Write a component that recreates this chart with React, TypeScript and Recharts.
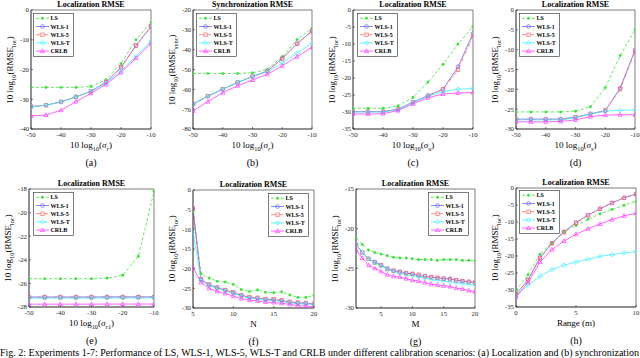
import React from 'react';
import { LineChart, Line, XAxis, YAxis, ReferenceArea } from 'recharts';

// ---------- data ----------
const X_SIGMA = [-50, -45, -40, -35, -30, -25, -20, -15, -10];
const X_N = [5, 6, 7, 8, 9, 10, 11, 12, 13, 14, 15, 16, 17, 18, 19, 20];
const X_M = [1, 2, 3, 4, 5, 6, 7, 8, 9, 10, 11, 12, 13, 14, 15, 16, 17, 18, 19, 20];
const X_RANGE = [0, 1, 2, 3, 4, 5, 6, 7, 8, 9, 10];

const SERIES_NAMES = ['LS', 'WLS-1', 'WLS-5', 'WLS-T', 'CRLB'];

const A_LS = [-26, -26, -26, -26, -25.7, -23.5, -18, -10, -4.1];
const A_W1 = [-32.5, -32, -30.9, -29.2, -27.3, -24.3, -19.3, -12, -5.6];
const A_W5 = [-32.4, -32, -30.9, -29.2, -27.3, -24.2, -19.2, -11.9, -5.5];
const A_WT = [-32.5, -32, -30.9, -29.2, -27.3, -24.6, -20.5, -15.6, -10.5];
const A_CR = [-35.6, -35.3, -33.7, -30.8, -28, -25, -21, -16.2, -11.2];

const B_LS = [-52, -52, -52, -52, -51.7, -49.9, -43.5, -34.9, -29.2];
const B_W1 = [-67.4, -63.4, -59.9, -56.5, -53.5, -50.8, -44.4, -36.9, -30.6];
const B_W5 = [-67.4, -63.4, -59.9, -56.5, -53.5, -50.8, -44.6, -37.1, -30.7];
const B_WT = [-67.6, -63.5, -60, -56.5, -53.6, -51.1, -46.8, -41.8, -36.8];
const B_CR = [-70.9, -66.2, -61.7, -58.2, -55.3, -52.4, -48.1, -43.5, -38.8];

const C_LS = [-28.9, -28.9, -28.9, -28.2, -25.7, -21.2, -16, -10, -4.9];
const C_W1 = [-29.9, -29.9, -29.9, -29.2, -27.1, -25.2, -23.3, -16.7, -6.9];
const C_W5 = [-29.9, -29.9, -29.9, -29.2, -27.1, -25.2, -23.3, -17.6, -7.6];
const C_WT = [-30, -30, -30, -29.3, -27.2, -25.3, -24, -23.3, -23.1];
const C_CR = [-30.6, -30.6, -30.5, -29.6, -27.6, -25.8, -24.7, -24.4, -24.3];

const D_LS = [-25.7, -25.7, -25.7, -25.7, -25.5, -24.4, -19.6, -11.5, -5];
const D_W1 = [-27.5, -27.5, -27.5, -27.5, -27, -26.2, -25.4, -19.7, -10.1];
const D_W5 = [-27.6, -27.6, -27.6, -27.6, -27.1, -26.2, -25.3, -20, -10.5];
const D_WT = [-27.7, -27.7, -27.7, -27.7, -27.2, -26.2, -25.5, -25.3, -25.2];
const D_CR = [-28.2, -28.2, -28.2, -28.1, -27.7, -26.9, -26.5, -26.4, -26.4];

const E_LS = [-25.6, -25.6, -25.6, -25.6, -25.6, -25.55, -25.3, -23.7, -18.2];
const E_W1 = [-27.15, -27.15, -27.15, -27.15, -27.15, -27.14, -27.14, -27.14, -27.14];
const E_W5 = [-27.18, -27.18, -27.18, -27.18, -27.18, -27.17, -27.17, -27.17, -27.17];
const E_WT = [-27.25, -27.25, -27.25, -27.25, -27.25, -27.24, -27.24, -27.24, -27.24];
const E_CR = [-27.76, -27.76, -27.76, -27.76, -27.76, -27.75, -27.75, -27.75, -27.75];

const F_LS = [-5.5, -21.3, -22.4, -23.2, -23.4, -24, -25.3, -25.8, -25.4, -26, -26.1, -25.9, -26.7, -27.3, -27.3, -26.8];
const F_W1 = [-4.8, -22.8, -24.1, -24.8, -25.5, -26.1, -26.8, -27.3, -27.5, -27.8, -27.9, -28.1, -28.5, -28.7, -28.8, -29];
const F_W5 = [-4.7, -22.7, -24, -24.8, -25.4, -26, -26.7, -27.2, -27.4, -27.7, -27.8, -28, -28.4, -28.6, -28.7, -28.9];
const F_WT = [-10.6, -23, -24.3, -25, -25.7, -26.3, -27, -27.5, -27.7, -28, -28.1, -28.3, -28.7, -28.9, -29, -29.1];
const F_CR = [-19.7, -23.5, -25, -25.8, -26.3, -27, -27.6, -28, -28.2, -28.5, -28.6, -28.8, -29.1, -29.4, -29.5, -29.7];

const G_LS = [-21.2, -22, -22.7, -23, -23.2, -23.4, -23.6, -23.7, -23.7, -23.8, -23.9, -23.9, -23.9, -24, -23.9, -23.9, -23.9, -24, -24, -24];
const G_W1 = [-22, -23, -23.8, -24.2, -24.6, -25, -25.3, -25.4, -25.6, -25.7, -25.9, -26, -26.1, -26.2, -26.3, -26.3, -26.5, -26.6, -26.7, -26.8];
const G_W5 = [-22, -23, -23.8, -24.3, -24.6, -25.1, -25.3, -25.5, -25.6, -25.7, -25.8, -26, -26.1, -26.2, -26.3, -26.4, -26.5, -26.6, -26.7, -26.8];
const G_WT = [-22, -23, -23.8, -24.3, -24.7, -25.1, -25.4, -25.6, -25.8, -25.9, -26.1, -26.2, -26.4, -26.5, -26.6, -26.7, -26.8, -26.9, -27, -27.1];
const G_CR = [-22.7, -23.7, -24.6, -25, -25.4, -25.8, -26, -26.1, -26.3, -26.5, -26.6, -26.8, -27, -27.1, -27.2, -27.3, -27.5, -27.6, -27.8, -27.95];

const H_LS = [-30.2, -25.5, -19.5, -16.1, -12.9, -11, -9.2, -7.6, -6.3, -5.1, -3.9];
const H_W1 = [-31.3, -27, -20.5, -16.2, -12.9, -10.2, -8, -6.1, -4.4, -2.9, -1.8];
const H_W5 = [-31.2, -27.1, -20.6, -16.3, -13, -10.2, -8, -6.1, -4.4, -2.9, -1.8];
const H_WT = [-31.8, -28.6, -25.9, -24, -22.7, -21.8, -21, -20.1, -19.6, -19.1, -18.7];
const H_CR = [-32, -27.8, -21.8, -18.1, -15.6, -13.6, -12, -10.6, -9.3, -8.2, -7.4];

const TICKS_SIGMA = [-50, -40, -30, -20, -10];
const TICKS_NM = [5, 10, 15, 20];
const TICKS_RANGE = [0, 5, 10];

const CAPTION =
  'Fig. 2: Experiments 1-7: Performance of LS, WLS-1, WLS-5, WLS-T and CRLB under different calibration scenarios: (a) Localization and (b) synchronization';

// ---------- styles ----------
const FONT = "'Liberation Serif', 'DejaVu Serif', serif";
const AX = '#262626';
const STYLES = [
  { color: '#3ee23e', dash: '3 2', shape: 'dot' },
  { color: '#6a6aff', dash: undefined, shape: 'circle' },
  { color: '#ff6a6a', dash: '4 1.5 1 1.5', shape: 'square' },
  { color: '#3ff0ff', dash: undefined, shape: 'diamond' },
  { color: '#ff3cff', dash: undefined, shape: 'triangle' },
];

function Marker({ shape, color, cx, cy }: { shape: string; color: string; cx: number; cy: number }) {
  const sw = 0.7;
  if (shape === 'dot') return <circle cx={cx} cy={cy} r={1.3} fill={color} stroke={color} strokeWidth={0.3} />;
  if (shape === 'circle') return <circle cx={cx} cy={cy} r={1.9} fill="none" stroke={color} strokeWidth={sw} />;
  if (shape === 'square') return <rect x={cx - 1.7} y={cy - 1.7} width={3.4} height={3.4} fill="none" stroke={color} strokeWidth={sw} />;
  if (shape === 'diamond')
    return <polygon points={`${cx},${cy - 2.3} ${cx + 2.3},${cy} ${cx},${cy + 2.3} ${cx - 2.3},${cy}`} fill="none" stroke={color} strokeWidth={sw} />;
  return <polygon points={`${cx},${cy - 2.2} ${cx + 2.1},${cy + 1.5} ${cx - 2.1},${cy + 1.5}`} fill="none" stroke={color} strokeWidth={sw} />;
}

const makeDot = (shape: string, color: string) => (props: any) => {
  const { cx, cy, index } = props;
  if (cx == null || cy == null) return <g key={`e${index}`} />;
  return (
    <g key={`d${index}`}>
      <Marker shape={shape} color={color} cx={cx} cy={cy} />
    </g>
  );
};

function build(xs: number[], series: number[][]) {
  return xs.map((x, i) => {
    const row: any = { x };
    series.forEach((s, k) => (row['s' + k] = s[i]));
    return row;
  });
}

type PanelCfg = {
  px: number; py: number; pw: number; ph: number;
  xs: number[]; series: number[][];
  xDomain: [number, number]; xTicks: number[];
  yDomain: [number, number]; yTicks: number[];
  title: string; xLabel: React.ReactNode; yLabel: React.ReactNode; sub: string;
  lx: number; ly: number;
};

const sigLabel = (s: string) => (
  <span>10 log<sub style={{ fontSize: '70%' }}>10</sub>(<i>σ</i><sub style={{ fontSize: '70%' }}><i>{s}</i></sub>)</span>
);
const rmseLabel = (s: string) => (
  <span>10 log<sub style={{ fontSize: '70%' }}>10</sub>(RMSE<sub style={{ fontSize: '70%' }}>{s}</sub>)</span>
);

const PANELS: PanelCfg[] = [
  { px: 31, py: 10, pw: 120, ph: 119, xs: X_SIGMA, series: [A_LS, A_W1, A_W5, A_WT, A_CR], xDomain: [-50, -10], xTicks: TICKS_SIGMA, yDomain: [-40, 0], yTicks: [-40, -30, -20, -10, 0], title: 'Localization RMSE', xLabel: sigLabel('r'), yLabel: rmseLabel('loc'), sub: '(a)', lx: 33, ly: 13 },
  { px: 193, py: 10, pw: 119, ph: 119, xs: X_SIGMA, series: [B_LS, B_W1, B_W5, B_WT, B_CR], xDomain: [-50, -10], xTicks: TICKS_SIGMA, yDomain: [-80, -20], yTicks: [-80, -70, -60, -50, -40, -30, -20], title: 'Synchronization RMSE', xLabel: sigLabel('r'), yLabel: rmseLabel('sync'), sub: '(b)', lx: 196, ly: 13 },
  { px: 353, py: 10, pw: 120, ph: 119, xs: X_SIGMA, series: [C_LS, C_W1, C_W5, C_WT, C_CR], xDomain: [-50, -10], xTicks: TICKS_SIGMA, yDomain: [-35, 0], yTicks: [-35, -30, -25, -20, -15, -10, -5, 0], title: 'Localization RMSE', xLabel: sigLabel('u'), yLabel: rmseLabel('loc'), sub: '(c)', lx: 357, ly: 13 },
  { px: 516, py: 10, pw: 119, ph: 119, xs: X_SIGMA, series: [D_LS, D_W1, D_W5, D_WT, D_CR], xDomain: [-50, -10], xTicks: TICKS_SIGMA, yDomain: [-30, 0], yTicks: [-30, -25, -20, -15, -10, -5, 0], title: 'Localization RMSE', xLabel: sigLabel('s'), yLabel: rmseLabel('loc'), sub: '(d)', lx: 519, ly: 13 },
  { px: 29, py: 189, pw: 125, ph: 118, xs: X_SIGMA, series: [E_LS, E_W1, E_W5, E_WT, E_CR], xDomain: [-50, -10], xTicks: TICKS_SIGMA, yDomain: [-28, -18], yTicks: [-28, -26, -24, -22, -20, -18], title: 'Localization RMSE', xLabel: sigLabel('r1'), yLabel: rmseLabel('loc'), sub: '(e)', lx: 33, ly: 192 },
  { px: 193, py: 190, pw: 121, ph: 118, xs: X_N, series: [F_LS, F_W1, F_W5, F_WT, F_CR], xDomain: [5, 20], xTicks: TICKS_NM, yDomain: [-30, 0], yTicks: [-30, -25, -20, -15, -10, -5, 0], title: 'Localization RMSE', xLabel: <span>N</span>, yLabel: rmseLabel('loc'), sub: '(f)', lx: 268, ly: 193 },
  { px: 356, py: 189, pw: 119, ph: 119, xs: X_M, series: [G_LS, G_W1, G_W5, G_WT, G_CR], xDomain: [1, 20], xTicks: TICKS_NM, yDomain: [-30, -15], yTicks: [-30, -25, -20, -15], title: 'Localization RMSE', xLabel: <span>M</span>, yLabel: rmseLabel('loc'), sub: '(g)', lx: 428, ly: 192 },
  { px: 516, py: 188, pw: 120, ph: 119, xs: X_RANGE, series: [H_LS, H_W1, H_W5, H_WT, H_CR], xDomain: [0, 10], xTicks: TICKS_RANGE, yDomain: [-35, 0], yTicks: [-35, -30, -25, -20, -15, -10, -5, 0], title: 'Localization RMSE', xLabel: <span>Range (m)</span>, yLabel: rmseLabel('loc'), sub: '(h)', lx: 519, ly: 190 },
];

function LegendBox({ x, y }: { x: number; y: number }) {
  const W = 41, H = 44;
  return (
    <svg style={{ position: 'absolute', left: x, top: y }} width={W} height={H}>
      <rect x={0.5} y={0.5} width={W - 1} height={H - 1} fill="#fff" stroke={AX} strokeWidth={0.6} />
      {SERIES_NAMES.map((n, i) => {
        const cy = 5.3 + i * 8.2;
        const st = STYLES[i];
        return (
          <g key={n}>
            <line x1={3} x2={16} y1={cy} y2={cy} stroke={st.color} strokeWidth={0.8} strokeDasharray={st.dash} />
            <Marker shape={st.shape} color={st.color} cx={9.5} cy={cy} />
            <text x={17.5} y={cy + 2.1} fontSize={6} fontWeight="bold" fontFamily={FONT} fill="#000">{n}</text>
          </g>
        );
      })}
    </svg>
  );
}

const ML = 6, YW = 25, MT = 4, MR = 6, XH = 12, MB = 6;

function Panel({ p }: { p: PanelCfg }) {
  const data = build(p.xs, p.series);
  const W = p.pw + ML + YW + MR;
  const H = p.ph + MT + XH + MB;
  const tickStyle = { fontSize: 6.8, fontFamily: FONT, fill: AX };
  return (
    <>
      <div style={{ position: 'absolute', left: p.px - ML - YW, top: p.py - MT, width: W, height: H }}>
        <LineChart width={W} height={H} data={data} margin={{ left: ML, top: MT, right: MR, bottom: MB }}>
          <XAxis dataKey="x" type="number" domain={p.xDomain} ticks={p.xTicks} allowDataOverflow height={XH}
            tickSize={-2} tickMargin={5.5} tick={tickStyle} stroke={AX} axisLine={{ stroke: AX, strokeWidth: 0.6 }} tickLine={{ stroke: AX, strokeWidth: 0.6 }} interval={0} />
          <YAxis type="number" domain={p.yDomain} ticks={p.yTicks} allowDataOverflow width={YW}
            tickSize={-2} tickMargin={4} tick={tickStyle} stroke={AX} axisLine={{ stroke: AX, strokeWidth: 0.6 }} tickLine={{ stroke: AX, strokeWidth: 0.6 }} interval={0} />
          <ReferenceArea x1={p.xDomain[0]} x2={p.xDomain[1]} y1={p.yDomain[0]} y2={p.yDomain[1]} fill="none" stroke={AX} strokeWidth={0.6} ifOverflow="visible" />
          {p.series.map((_, k) => {
            const st = STYLES[k];
            return (
              <Line key={k} dataKey={'s' + k} name={SERIES_NAMES[k]} type="linear" stroke={st.color} strokeWidth={0.8}
                strokeDasharray={st.dash} dot={makeDot(st.shape, st.color)} isAnimationActive={false} />
            );
          })}
        </LineChart>
      </div>
      <div style={{ position: 'absolute', left: p.px, top: p.py - 10, width: p.pw, textAlign: 'center', fontSize: 8, lineHeight: '9px', fontWeight: 'bold', fontFamily: FONT, color: '#000', whiteSpace: 'nowrap' }}>{p.title}</div>
      <div style={{ position: 'absolute', left: p.px, top: p.py + p.ph + 11, width: p.pw, textAlign: 'center', fontSize: 9, lineHeight: '11px', fontFamily: FONT, color: '#000', whiteSpace: 'nowrap' }}>{p.xLabel}</div>
      <div style={{ position: 'absolute', left: p.px, top: p.py + p.ph + 29, width: p.pw, textAlign: 'center', fontSize: 10, lineHeight: '10px', fontFamily: FONT, color: '#000' }}>{p.sub}</div>
      <div style={{ position: 'absolute', left: p.px - 19, top: p.py + p.ph / 2, transform: 'translate(-50%, -50%) rotate(-90deg)', fontSize: 9, lineHeight: '11px', fontFamily: FONT, color: '#000', whiteSpace: 'nowrap' }}>{p.yLabel}</div>
      <LegendBox x={p.lx} y={p.ly} />
    </>
  );
}

export default function App() {
  return (
    <div style={{ position: 'absolute', left: 0, top: 0, width: 640, height: 358, overflow: 'hidden', background: '#fff' }}>
      {PANELS.map((p, i) => <Panel key={i} p={p} />)}
      <div style={{ position: 'absolute', left: 0, top: 347, width: 640, fontSize: 10, lineHeight: '11px', fontFamily: FONT, whiteSpace: 'nowrap', color: '#000' }}>{CAPTION}</div>
    </div>
  );
}
